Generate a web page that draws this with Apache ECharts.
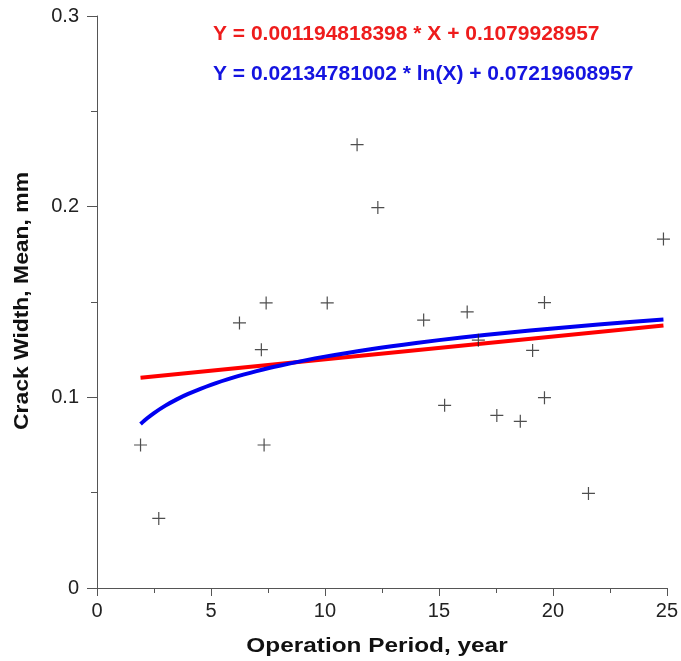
<!DOCTYPE html>
<html>
<head>
<meta charset="utf-8">
<script src="https://cdn.jsdelivr.net/npm/echarts@6/dist/echarts.min.js"></script>
<style>html,body{margin:0;padding:0;background:#fff}#c{width:681px;height:661px}</style>
</head>
<body>
<div id="c"></div>
<script>
// Observed data (Operation Period, year ; Crack Width, mm)
var obsX = [1.91, 2.71, 6.25, 7.42, 7.21, 7.33, 10.1, 11.41, 12.32, 14.33, 15.25, 16.24, 16.73, 17.54, 18.57, 19.11, 19.63, 19.63, 21.56, 24.85];
var obsY = [0.075, 0.0365, 0.139, 0.1495, 0.125, 0.075, 0.1495, 0.2325, 0.1995, 0.1405, 0.0958, 0.1448, 0.130, 0.0905, 0.0874, 0.1246, 0.1497, 0.0998, 0.0496, 0.183];

// Linear fit line (read as its two ends)
var linX = [1.91, 24.85];
var linY = [0.1103, 0.1377];

// Logarithmic fit curve
var logX = [1.91, 2.2, 2.5, 3, 3.5, 4, 5, 6, 7, 8, 10, 12, 14, 16, 18, 20, 22, 24.85];
var logY = [0.0860, 0.0890, 0.09176, 0.09565, 0.09894, 0.10179, 0.10655, 0.11045, 0.11374, 0.11659, 0.12135, 0.12524, 0.12853, 0.13138, 0.1339, 0.13615, 0.13818, 0.14078];

var eqLinear = 'Y = 0.001194818398 * X + 0.1079928957';
var eqLog = 'Y = 0.02134781002 * ln(X) + 0.07219608957';

var xName = 'Operation Period, year';
var yName = 'Crack Width, Mean, mm';

function zip(a, b) { return a.map(function (v, i) { return [v, b[i]]; }); }

var FONT = 'Liberation Sans, Arial, Helvetica, sans-serif';
var axisColor = '#555';
var chart = echarts.init(document.getElementById('c'));
chart.setOption({
  backgroundColor: '#fff',
  animation: false,
  grid: { left: 97, right: 13, top: 16, bottom: 73 },
  title: [
    { text: eqLinear, left: 208, top: 19, textStyle: { color: '#ee1c1c', fontSize: 21, fontWeight: 'bold', fontFamily: FONT } },
    { text: eqLog, left: 208, top: 59, textStyle: { color: '#1414e0', fontSize: 21, fontWeight: 'bold', fontFamily: FONT } }
  ],
  graphic: [
    { type: 'text', x: 377, y: 646, scaleX: 1.16, silent: true,
      style: { text: xName, fill: '#111', fontSize: 21, fontWeight: 'bold', fontFamily: FONT, align: 'center', verticalAlign: 'middle' } },
    { type: 'text', x: 22, y: 301, rotation: Math.PI / 2, scaleX: 1.09, silent: true,
      style: { text: yName, fill: '#111', fontSize: 21, fontWeight: 'bold', fontFamily: FONT, align: 'center', verticalAlign: 'middle' } }
  ],
  xAxis: {
    type: 'value', min: 0, max: 25, interval: 5,
    axisLine: { show: true, onZero: false, lineStyle: { color: axisColor, width: 1 } },
    axisTick: { show: true, length: 8, lineStyle: { color: axisColor } },
    minorTick: { show: true, splitNumber: 2, length: 5, lineStyle: { color: axisColor } },
    splitLine: { show: false },
    axisLabel: { color: '#222', fontSize: 20, margin: 13, fontFamily: FONT }
  },
  yAxis: {
    type: 'value', min: 0, max: 0.3, interval: 0.1,
    axisLine: { show: true, onZero: false, lineStyle: { color: axisColor, width: 1 } },
    axisTick: { show: true, length: 10, lineStyle: { color: axisColor } },
    minorTick: { show: true, splitNumber: 2, length: 6, lineStyle: { color: axisColor } },
    splitLine: { show: false },
    axisLabel: { color: '#222', fontSize: 20, margin: 18, fontFamily: FONT }
  },
  series: [
    {
      type: 'line', data: zip(linX, linY), showSymbol: false, symbol: 'none',
      lineStyle: { color: '#ff0000', width: 4 }, z: 3
    },
    {
      type: 'line', data: zip(logX, logY), showSymbol: false, symbol: 'none', smooth: 0.3,
      lineStyle: { color: '#0000f0', width: 4 }, z: 4
    },
    {
      type: 'scatter', data: zip(obsX, obsY),
      symbol: 'path://M0,7L14,7M7,0L7,14', symbolSize: 13,
      itemStyle: { color: 'rgba(0,0,0,0)', borderColor: '#222', borderWidth: 1.2 }, z: 5
    }
  ]
});
</script>
</body>
</html>
